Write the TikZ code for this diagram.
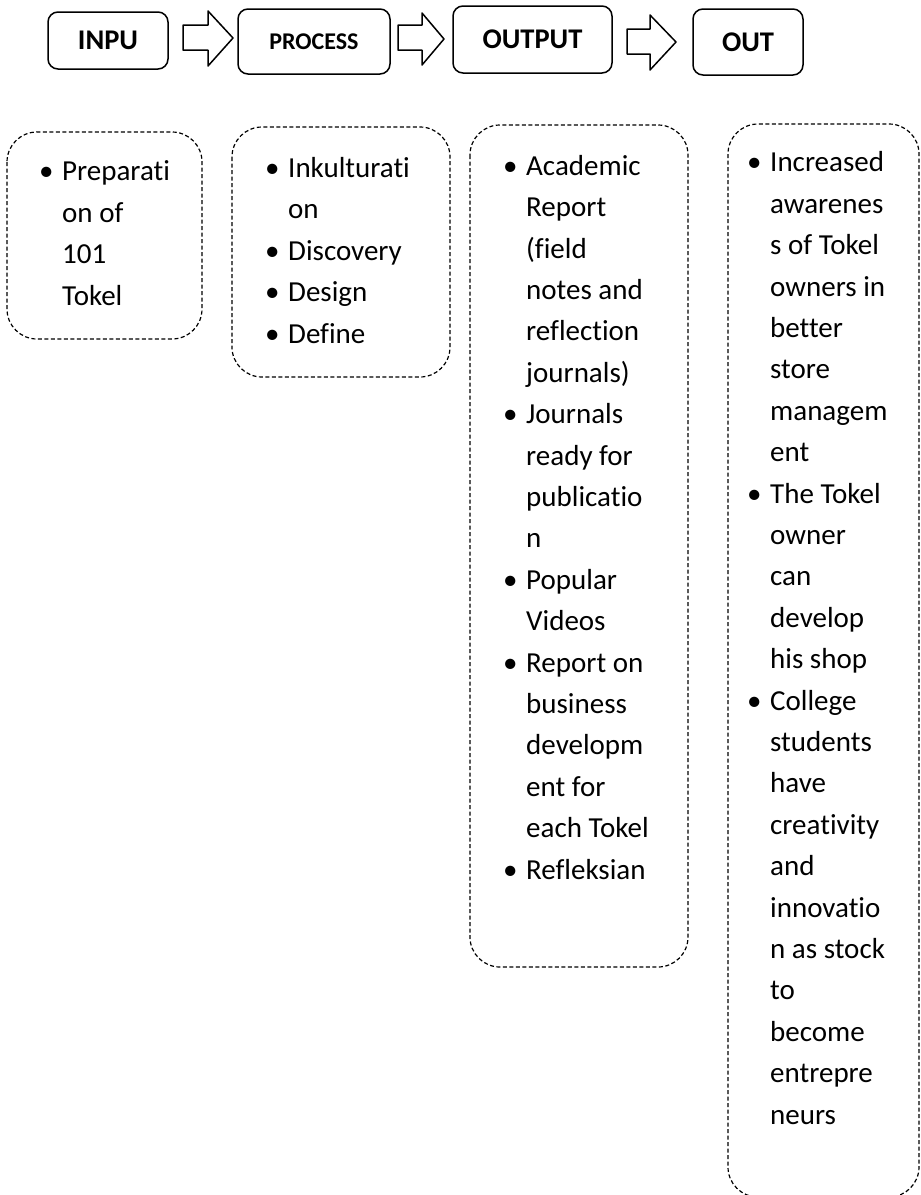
\documentclass[tikz,border=0pt]{standalone}
\usepackage{fontspec}
\setmainfont[Ligatures=NoCommon]{Carlito}
\usepackage{tikz}
\newcommand{\itm}{\makebox[23pt][l]{\textbullet}}
\newcommand{\ind}{\hspace*{23pt}}

\begin{document}
\begin{tikzpicture}[x=1pt,y=-1pt,line join=round,
  headbox/.style={draw,line width=1.5pt,rounded corners=10pt,inner sep=0pt,font=\fontsize{28.5}{34}\selectfont\bfseries},
  listbox/.style={draw,line width=1.2pt,dash pattern=on 4pt off 2.5pt,rounded corners=30pt},
  listtext/.style={anchor=base west,inner sep=0pt,align=left,font=\fontsize{29}{41.4}\selectfont},
  blockarrow/.style={draw,line width=1.5pt}]
  \useasboundingbox (0,0) rectangle (921,1195);
  \clip (0,0) rectangle (921,1195);
  % top row
  \node[headbox,minimum width=120pt,minimum height=57pt] (inpu) at (108,40.5) {INPU};
  \node[headbox,minimum width=152pt,minimum height=65pt,font=\fontsize{24}{29}\selectfont\bfseries] (process) at (314,41.5) {PROCESS};
  \node[headbox,minimum width=159pt,minimum height=67pt] (output) at (532.5,39.5) {OUTPUT};
  \node[headbox,minimum width=110pt,minimum height=66pt] (out) at (748,42) {OUT};
  \draw[blockarrow] (183,25) -- (208,25) -- (208,11) -- (233,38) -- (208,66) -- (208,50) -- (183,50) -- cycle;
  \draw[blockarrow] (398,25) -- (422,25) -- (422,13) -- (444,39) -- (422,65) -- (422,50) -- (398,50) -- cycle;
  \draw[blockarrow] (627,29) -- (650,29) -- (650,15) -- (676,42) -- (650,70) -- (650,54) -- (627,54) -- cycle;
  % dashed lists (text placed by its last baseline)
  \draw[listbox] (7,132) rectangle (202,339);
  \draw[listbox] (232,127) rectangle (450,377);
  \draw[listbox] (470,125) rectangle (688,967);
  \draw[listbox] (728,124) rectangle (919,1197);
  \node[listtext] (inputlist) at (39,305) {\itm Preparati\\ \ind on of\\ \ind 101\\ \ind Tokel};
  \node[listtext] (processlist) at (265,343) {\itm Inkulturati\\ \ind on\\ \itm Discovery\\ \itm Design\\ \itm Define};
  \node[listtext] (outputlist) at (503,879) {\itm Academic\\ \ind Report\\ \ind (field\\ \ind notes and\\ \ind reflection\\ \ind journals)\\
    \itm Journals\\ \ind ready for\\ \ind publicatio\\ \ind n\\ \itm Popular\\ \ind Videos\\
    \itm Report on\\ \ind business\\ \ind developm\\ \ind ent for\\ \ind each Tokel\\ \itm Refleksian};
  \node[listtext] (outlist) at (747,1124) {\itm Increased\\ \ind awarenes\\ \ind s of Tokel\\ \ind owners in\\ \ind better\\ \ind store\\ \ind managem\\ \ind ent\\
    \itm The Tokel\\ \ind owner\\ \ind can\\ \ind develop\\ \ind his shop\\
    \itm College\\ \ind students\\ \ind have\\ \ind creativity\\ \ind and\\ \ind innovatio\\ \ind n as stock\\ \ind to\\ \ind become\\ \ind entrepre\\ \ind neurs};
\end{tikzpicture}
\end{document}
